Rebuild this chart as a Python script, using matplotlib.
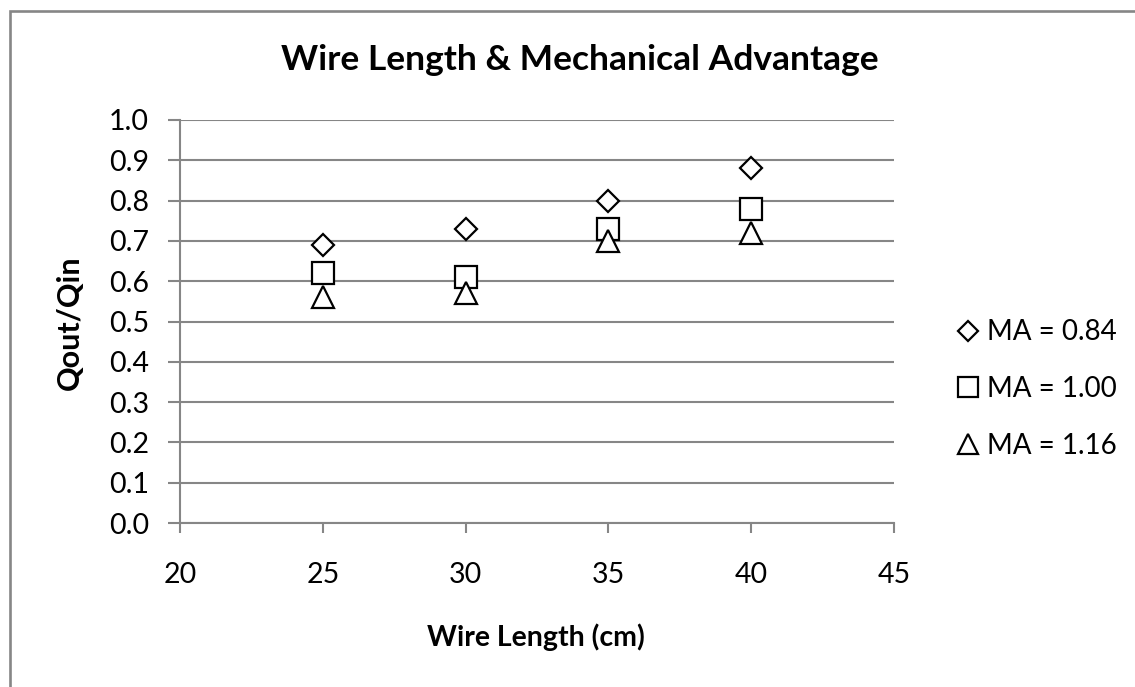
import matplotlib.pyplot as plt
from matplotlib.patches import Rectangle

# data
wire_length = [25, 30, 35, 40]
ma_084 = [0.69, 0.73, 0.80, 0.88]
ma_100 = [0.62, 0.61, 0.73, 0.78]
ma_116 = [0.56, 0.57, 0.70, 0.72]
series_labels = ["MA = 0.84", "MA = 1.00", "MA = 1.16"]
x_ticks = [20, 25, 30, 35, 40, 45]
y_ticks = [0.0, 0.1, 0.2, 0.3, 0.4, 0.5, 0.6, 0.7, 0.8, 0.9, 1.0]

plt.rcParams['font.family'] = ['Lato', 'DejaVu Sans']
grey = '#868686'

fig = plt.figure(figsize=(11.35, 6.87), dpi=100)
# outer chart border; only top and left edges are inside the picture
fig.patches.append(Rectangle((9.5 / 1135, -0.1), 1.2, 1.1 - 10.5 / 687,
                             transform=fig.transFigure, fill=False,
                             edgecolor=grey, lw=1.9))

ax = fig.add_axes([180 / 1135, 1 - 523 / 687, 714 / 1135, 403 / 687])
ax.set_xlim(20, 45)
ax.set_ylim(0, 1)

markers = ['D', 's', '^']
sizes = [11.5, 16, 16]
for ys, m, ms, lab in zip([ma_084, ma_100, ma_116], markers, sizes, series_labels):
    ax.plot(wire_length, ys, linestyle='none', marker=m, markersize=ms,
            markerfacecolor='white', markeredgecolor='black',
            markeredgewidth=1.6, label=lab, zorder=3)

ax.set_xticks(x_ticks)
ax.set_yticks(y_ticks)
ax.set_yticklabels([f"{v:.1f}" for v in y_ticks])
ax.tick_params(axis='both', direction='out', width=1.5, color=grey,
               labelsize=20.5)
ax.tick_params(axis='y', length=8.5, pad=14)
ax.tick_params(axis='x', length=7, pad=21)
ax.grid(axis='y', color=grey, lw=1.5)
ax.set_axisbelow(True)
for s in ['top', 'right']:
    ax.spines[s].set_visible(False)
for s in ['left', 'bottom']:
    ax.spines[s].set_color(grey)
    ax.spines[s].set_linewidth(1.5)

fig.text(580 / 1135, 1 - 70 / 687, "Wire Length & Mechanical Advantage",
         ha='center', va='baseline', fontsize=25.5, fontweight='bold')
fig.text(70 / 1135, 1 - 323 / 687, "Qout/Qin", ha='center', va='center',
         rotation=90, fontsize=22, fontweight='bold')
fig.text(536 / 1135, 1 - 646 / 687, "Wire Length (cm)", ha='center',
         va='baseline', fontsize=20.5, fontweight='bold')

ax.legend(loc='center left', bbox_to_anchor=(955 / 1135, 1 - 389 / 687),
          bbox_transform=fig.transFigure, frameon=False, fontsize=20,
          handlelength=0.9, handletextpad=0.25, labelspacing=1.1,
          borderpad=0, borderaxespad=0, markerscale=0.9)

fig.savefig("out.png", dpi=100)
